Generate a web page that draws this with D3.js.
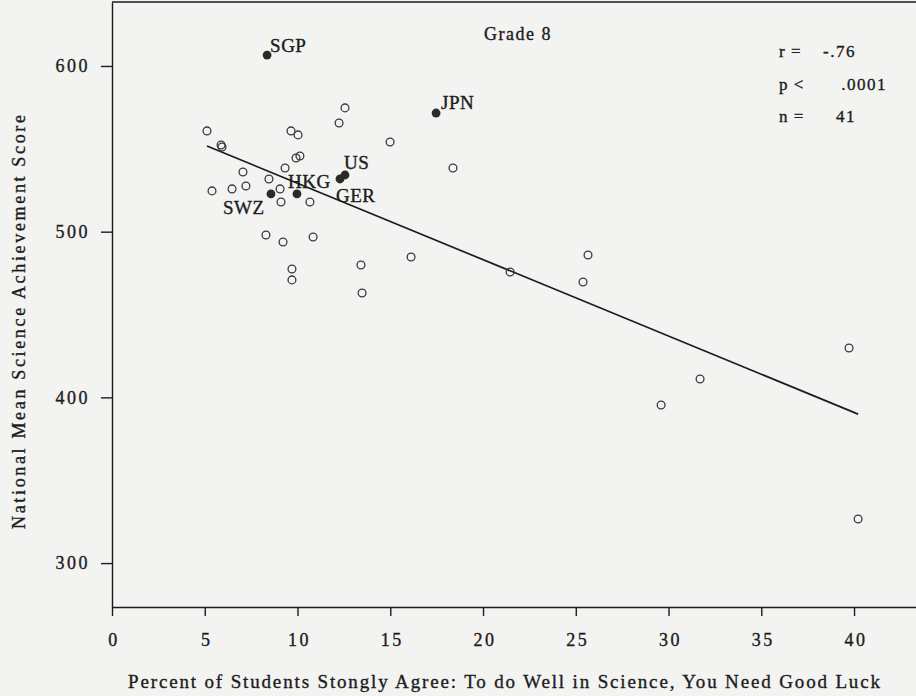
<!DOCTYPE html>
<html>
<head>
<meta charset="utf-8">
<script src="https://cdn.jsdelivr.net/npm/d3@7"></script>
<style>
  body { margin: 0; background: #f3f3f2; }
  svg { display: block; font-family: "Liberation Serif", "DejaVu Serif", serif; }
  svg text { stroke: #1c1c1c; stroke-width: 0.35px; }
</style>
</head>
<body>
<div id="chart"></div>
<script>
// open circles: other countries
const otherX = [5.12, 5.88, 5.93, 9.65, 10.03, 12.56, 12.24, 14.99, 9.92, 10.13, 9.33, 7.06,
  8.46, 7.22, 6.47, 5.39, 9.06, 9.11, 10.67, 8.30, 9.22, 10.84, 9.70, 9.70, 13.42, 13.48,
  16.12, 21.46, 25.66, 25.39, 39.73, 31.70, 29.60, 40.22, 18.38];
const otherY = [560.8, 552.3, 551.1, 560.8, 558.4, 574.7, 565.6, 554.1, 544.5, 545.7, 538.4, 536.0,
  531.8, 527.6, 525.8, 524.6, 525.8, 517.9, 517.9, 498.0, 493.8, 496.8, 477.5, 470.9, 479.9, 463.0,
  484.7, 475.7, 485.9, 469.6, 429.8, 411.1, 395.4, 326.6, 538.4];

// filled circles: labelled countries
const namedCodes = ['SGP', 'JPN', 'US', 'GER', 'HKG', 'SWZ'];
const namedX = [8.36, 17.47, 12.56, 12.29, 9.97, 8.57];
const namedY = [606.6, 571.6, 534.2, 531.8, 522.8, 522.8];
// label offset from the dot, in pixels
const labelDx = [3, 5, -1, -4, -9, -48];
const labelDy = [-3, -4, -6, 23, -6, 20];

// regression line ends
const fitX = [5.12, 40.22];
const fitY = [551.7, 389.9];

const xTicks = [0, 5, 10, 15, 20, 25, 30, 35, 40];
const yTicks = [300, 400, 500, 600];
const stats = [['r =', '-.76'], ['p <', '.0001'], ['n =', '41']];

const width = 916;
const height = 696;
const ink = '#1c1c1c';

const svg = d3.select('#chart').append('svg')
  .attr('width', width)
  .attr('height', height);

const x = d3.scaleLinear().domain([0, 43.34]).range([112, 916]);
const y = d3.scaleLinear().domain([273.5, 638.6]).range([607, 2]);

// frame top
svg.append('line')
  .attr('x1', x(0)).attr('x2', width)
  .attr('y1', y(638.6)).attr('y2', y(638.6))
  .attr('stroke', ink).attr('stroke-width', 1.4);

const xAxis = d3.axisBottom(x).tickValues(xTicks).tickSize(9).tickSizeOuter(0).tickPadding(17);
const gx = svg.append('g').attr('transform', `translate(0, ${y(273.5)})`).call(xAxis);

const yAxis = d3.axisLeft(y).tickValues(yTicks).tickSize(11).tickSizeOuter(0).tickPadding(11);
const gy = svg.append('g').attr('transform', `translate(${x(0)}, 0)`).call(yAxis);

[gx, gy].forEach(g => {
  g.selectAll('path, line').attr('stroke', ink).attr('stroke-width', 1.4);
  g.selectAll('text')
    .attr('fill', ink)
    .style('font-family', '"Liberation Serif", serif')
    .style('font-size', '18px')
    .style('letter-spacing', '2.5px');
});
gx.selectAll('text').attr('dx', '1.5px');

// regression line
svg.append('line')
  .attr('x1', x(fitX[0])).attr('y1', y(fitY[0]))
  .attr('x2', x(fitX[1])).attr('y2', y(fitY[1]))
  .attr('stroke', ink).attr('stroke-width', 1.7);

svg.append('g').selectAll('circle')
  .data(otherX)
  .enter()
  .append('circle')
  .attr('cx', d => x(d))
  .attr('cy', (d, i) => y(otherY[i]))
  .attr('r', 3.9)
  .attr('fill', 'none')
  .attr('stroke', '#3a3a3a')
  .attr('stroke-width', 1.3);

const named = svg.append('g').selectAll('g')
  .data(namedCodes)
  .enter()
  .append('g')
  .attr('transform', (d, i) => `translate(${x(namedX[i])}, ${y(namedY[i])})`);

named.append('circle')
  .attr('r', 4.4)
  .attr('fill', '#2a2a2a');

named.append('text')
  .attr('x', (d, i) => labelDx[i])
  .attr('y', (d, i) => labelDy[i])
  .attr('fill', ink)
  .style('font-size', '19px')
  .style('letter-spacing', '0.5px')
  .text(d => d);

svg.append('text')
  .attr('x', 484).attr('y', 40)
  .attr('fill', ink)
  .style('font-size', '18px')
  .style('letter-spacing', '1.5px')
  .text('Grade 8');

const statRows = svg.append('g').selectAll('g')
  .data(stats)
  .enter()
  .append('g')
  .attr('transform', (d, i) => `translate(779, ${57 + i * 32.5})`);

statRows.append('text')
  .attr('fill', ink)
  .style('font-size', '17px')
  .style('letter-spacing', '1px')
  .text(d => d[0]);

statRows.append('text')
  .attr('x', 77)
  .attr('text-anchor', 'end')
  .attr('fill', ink)
  .style('font-size', '17px')
  .style('letter-spacing', '1.5px')
  .attr('dx', (d, i) => [0, 31, 0][i])
  .text(d => d[1]);

svg.append('text')
  .attr('x', 128).attr('y', 688)
  .attr('fill', ink)
  .attr('textLength', 752)
  .attr('lengthAdjust', 'spacing')
  .style('font-size', '19px')
  .text('Percent of Students Stongly Agree: To do Well in Science, You Need Good Luck');

svg.append('text')
  .attr('transform', 'translate(25, 322) rotate(-90)')
  .attr('text-anchor', 'middle')
  .attr('fill', ink)
  .attr('textLength', 414)
  .attr('lengthAdjust', 'spacing')
  .style('font-size', '18px')
  .text('National Mean Science Achievement Score');
</script>
</body>
</html>
